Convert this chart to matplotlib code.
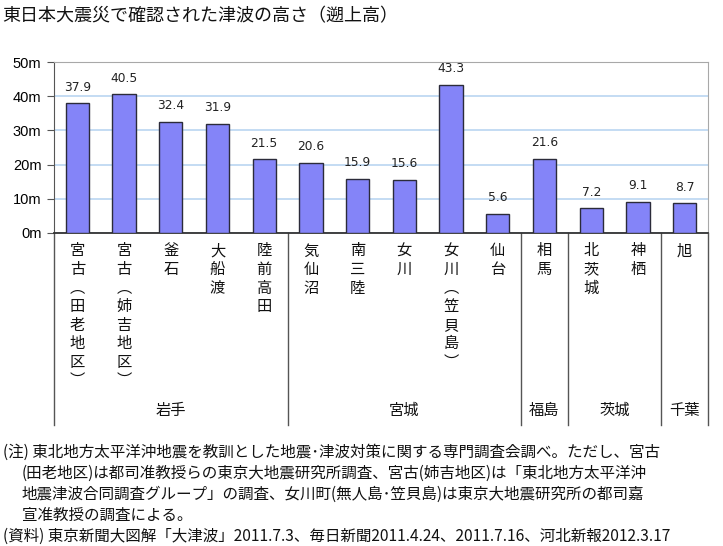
import matplotlib
matplotlib.use("Agg")
import matplotlib.pyplot as plt
import matplotlib.transforms as mtransforms

plt.rcParams['font.family'] = ['Noto Sans CJK JP', 'DejaVu Sans']

categories = ["宮古（田老地区）", "宮古（姉吉地区）", "釜石", "大船渡", "陸前高田",
              "気仙沼", "南三陸", "女川", "女川（笠貝島）", "仙台",
              "相馬", "北茨城", "神栖", "旭"]
heights = [37.9, 40.5, 32.4, 31.9, 21.5, 20.6, 15.9, 15.6, 43.3, 5.6, 21.6, 7.2, 9.1, 8.7]
groups = ["岩手", "宮城", "福島", "茨城", "千葉"]
group_sizes = [5, 5, 1, 2, 1]
yticks = [0, 10, 20, 30, 40, 50]
ytick_labels = ["0m", "10m", "20m", "30m", "40m", "50m"]

title = "東日本大震災で確認された津波の高さ（遡上高）"
notes = [
    "(注) 東北地方太平洋沖地震を教訓とした地震･津波対策に関する専門調査会調べ。ただし、宮古",
    "(田老地区)は都司准教授らの東京大地震研究所調査、宮古(姉吉地区)は「東北地方太平洋沖",
    "地震津波合同調査グループ」の調査、女川町(無人島･笠貝島)は東京大地震研究所の都司嘉",
    "宣准教授の調査による。",
    "(資料) 東京新聞大図解「大津波」2011.7.3、毎日新聞2011.4.24、2011.7.16、河北新報2012.3.17",
]
note_x = [3, 22, 22, 22, 3]

W, H = 723, 546
fig = plt.figure(figsize=(W / 100, H / 100), dpi=100)
ax = fig.add_axes([54 / W, (H - 233) / H, 654 / W, 171 / H])

x = list(range(len(categories)))
ax.bar(x, heights, width=0.5, color="#8484F8", edgecolor="#2b2b3a", linewidth=1.0, zorder=3)
for xi, h in zip(x, heights):
    ax.annotate(f"{h}", (xi, h), xytext=(0, 7), textcoords="offset points",
                ha="center", va="bottom", fontsize=8.8, family="DejaVu Sans", color="#222")

ax.set_xlim(-0.5, len(categories) - 0.5)
ax.set_ylim(0, 50)
ax.set_yticks(yticks)
ax.set_yticklabels(ytick_labels, family="Liberation Sans", fontsize=10.5)
ax.set_xticks([])
ax.tick_params(axis="y", direction="out", length=5, color="#555", pad=4)
ax.yaxis.grid(True, color="#BFD9F2", linewidth=1.3, zorder=0)
ax.set_axisbelow(True)
for s in ["top", "right"]:
    ax.spines[s].set_color("#A8A8A8")
ax.spines["left"].set_color("#555")
ax.spines["bottom"].set_color("#333")
ax.spines["bottom"].set_linewidth(1.3)

def vert(label):
    label = label.replace("（", "︵").replace("）", "︶")
    return "\n".join(label)

trans = mtransforms.blended_transform_factory(ax.transData, ax.transAxes)
for xi, c in zip(x, categories):
    ax.text(xi, -0.055, vert(c), transform=trans,
            ha="center", va="top", fontsize=11, linespacing=1.12, color="#111")

bottom_y = (233 - 425) / 171
group_y = (233 - 410) / 171
start = 0
ax.plot([-0.5, -0.5], [0, bottom_y], transform=trans, color="#555", lw=1.0, clip_on=False)
for g, n in zip(groups, group_sizes):
    end = start + n
    ax.plot([end - 0.5, end - 0.5], [0, bottom_y], transform=trans, color="#555", lw=1.0, clip_on=False)
    ax.text((start + end - 1) / 2, group_y, g, transform=trans, ha="center", va="center",
            fontsize=11, color="#111")
    start = end

fig.text(2 / W, 1 - 16 / H, title, ha="left", va="center", fontsize=13, color="#111")
ys = [452, 473, 494, 515, 536]
for t, xx, yy in zip(notes, note_x, ys):
    fig.text(xx / W, 1 - yy / H, t, ha="left", va="center", fontsize=11.2, color="#111")

fig.savefig("out.png", dpi=100)
